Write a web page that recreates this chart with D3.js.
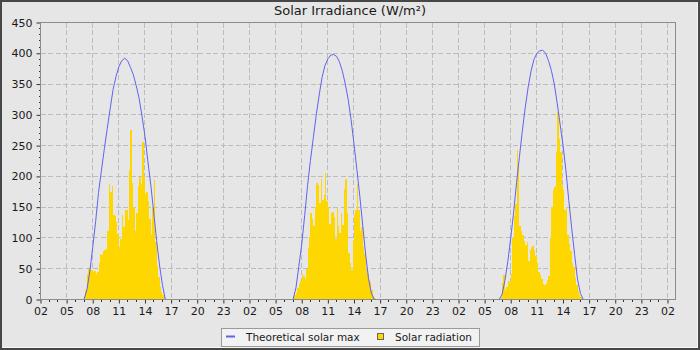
<!DOCTYPE html>
<html>
<head>
<meta charset="utf-8">
<script src="https://cdn.jsdelivr.net/npm/d3@7"></script>
<style>
  html, body { margin: 0; padding: 0; background: #474747; }
  svg { display: block; font-family: "DejaVu Sans", sans-serif; }
</style>
</head>
<body>
<svg id="chart" width="700" height="350"></svg>
<script>
// ---- data -------------------------------------------------------------
const chartTitle = "Solar Irradiance (W/m²)";
const seriesNames = ["Theoretical solar max", "Solar radiation"];

// time axis, in hours since midnight of the first day
const xStartHour = 2;
const xEndHour = 74.92;
const hourTicks = d3.range(2, 75, 3);
const hourTickLabels = ["02","05","08","11","14","17","20","23",
                        "02","05","08","11","14","17","20","23",
                        "02","05","08","11","14","17","20","23","02"];
const yTicks = [0, 50, 100, 150, 200, 250, 300, 350, 400, 450];

// measured radiation, one value every 10 minutes from the given start hour
const radiationStepMinutes = 10;
const radiationStarts = [7, 31, 54 + 50 / 60];
const radiationDay1 = [5,15,42,50,53,48,44,46,42,45,60,74,72,78,80,82,112,188,175,185,
                       137,135,126,107,85,99,137,118,145,145,129,210,276,190,150,112,140,185,199,188,
                       256,199,172,175,160,130,107,151,194,94,55,36,20,12,8,4];
const radiationDay2 = [5,8,10,18,25,30,42,38,34,50,84,102,140,130,120,150,190,186,156,196,
                       161,169,205,160,150,123,140,142,134,99,148,120,108,140,121,180,196,140,75,60,
                       48,96,137,145,188,145,112,118,86,75,48,42,31,29,15,6,2];
const radiationDay3 = [4,26,40,15,20,30,29,42,100,135,155,243,215,120,112,104,95,88,93,62,
                       80,85,88,80,70,60,45,40,34,25,23,26,32,38,100,150,178,183,240,305,
                       261,240,185,178,145,150,105,90,78,60,52,35,24,14,8,4];

// clear-sky maximum, one value every 20 minutes from the given start hour
const theoreticalStepMinutes = 20;
const theoreticalStarts = [7, 31, 54 + 40 / 60];
const theoreticalDay1 = [0,16,46,85,127,174,210,245,278,310,341,362,378,388,392,388,377,365,347,326,
                         297,265,224,186,142,96,56,24,0];
const theoreticalDay2 = [0,19,54,90,136,185,226,263,300,332,361,380,391,397,398,395,386,371,350,325,
                         292,253,211,168,121,74,34,10,0];
const theoreticalDay3 = [0,8,31,62,100,142,190,232,274,312,345,371,390,400,404,405,400,388,372,350,
                         319,285,251,210,161,116,73,33,10,0];

// ---- layout -----------------------------------------------------------
const W = 700, H = 350;
const plot = { left: 40.5, right: 675.5, top: 22.5, bottom: 299.5 };
const colors = {
  frame: "#474747", panel: "#e6e6e6", grid: "#bcbcbc", axis: "#8c8c8c",
  tick: "#333", text: "#1a1a1a", line: "#6262f0", bar: "#ffd700"
};

const svg = d3.select("#chart");

const x = d3.scaleLinear().domain([xStartHour, xEndHour]).range([plot.left, plot.right]);
const y = d3.scaleLinear().domain([0, 450]).range([plot.bottom, plot.top]);

// outer frame and panel
svg.append("rect").attr("width", W).attr("height", H).attr("fill", colors.frame);
svg.append("rect").attr("x", 2).attr("y", 2).attr("width", W - 4).attr("height", H - 4)
  .attr("fill", "#f6f6f6");
svg.append("rect").attr("x", 2).attr("y", 2).attr("width", W - 5).attr("height", H - 5)
  .attr("fill", colors.panel);

// title
svg.append("text").attr("x", W / 2).attr("y", 15).attr("text-anchor", "middle")
  .attr("font-size", 13).attr("fill", colors.text).text(chartTitle);

// grid
const grid = svg.append("g").attr("stroke", colors.grid).attr("stroke-dasharray", "5,2.5")
  .attr("shape-rendering", "crispEdges");
grid.selectAll("line.h").data(yTicks.filter(v => v > 0 && v < 450)).join("line")
  .attr("class", "h").attr("x1", plot.left).attr("x2", plot.right)
  .attr("y1", d => y(d)).attr("y2", d => y(d));
grid.selectAll("line.v").data(hourTicks.filter(h => h > xStartHour)).join("line")
  .attr("class", "v").attr("y1", plot.top).attr("y2", plot.bottom)
  .attr("x1", d => x(d)).attr("x2", d => x(d));

// measured radiation bars
const radiationDays = [radiationDay1, radiationDay2, radiationDay3];
const barData = radiationDays.flatMap((vals, d) =>
  vals.map((v, i) => ({ t: radiationStarts[d] + i * radiationStepMinutes / 60, v })));
const step = radiationStepMinutes / 60;
svg.append("g").attr("fill", colors.bar).attr("shape-rendering", "crispEdges")
  .selectAll("rect").data(barData).join("rect")
  .attr("x", d => x(d.t))
  .attr("width", d => x(d.t + step) - x(d.t))
  .attr("y", d => y(d.v))
  .attr("height", d => y(0) - y(d.v));

// theoretical maximum curve, one path per day
const theoreticalDays = [theoreticalDay1, theoreticalDay2, theoreticalDay3];
const line = d3.line().x(d => x(d.t)).y(d => y(d.v));
svg.append("g").attr("fill", "none").attr("stroke", colors.line).attr("stroke-width", 1)
  .selectAll("path").data(theoreticalDays.map((vals, d) =>
    vals.map((v, i) => ({ t: theoreticalStarts[d] + i * theoreticalStepMinutes / 60, v }))))
  .join("path").attr("d", line);

// axes
const yAxis = d3.axisLeft(y).tickValues(yTicks).tickSize(4).tickPadding(4);
const gy = svg.append("g").attr("transform", `translate(${plot.left},0)`).call(yAxis);
const xAxis = d3.axisBottom(x).tickValues(hourTicks).tickSize(4).tickPadding(4)
  .tickFormat((d, i) => hourTickLabels[i]);
const gx = svg.append("g").attr("transform", `translate(0,${plot.bottom})`).call(xAxis);

[gy, gx].forEach(g => {
  g.select(".domain").remove();
  g.selectAll(".tick line").attr("stroke", colors.tick);
  g.selectAll(".tick text").attr("fill", colors.text).attr("font-size", 11)
    .attr("font-family", "DejaVu Sans, sans-serif");
});

// minor ticks
svg.append("g").attr("stroke", colors.tick).attr("shape-rendering", "crispEdges")
  .selectAll("line").data(d3.range(0, 451, 10).filter(v => v % 50 !== 0)).join("line")
  .attr("x1", plot.left - 2).attr("x2", plot.left).attr("y1", d => y(d)).attr("y2", d => y(d));
svg.append("g").attr("stroke", colors.tick).attr("shape-rendering", "crispEdges")
  .selectAll("line").data(d3.range(3, 75, 1).filter(h => (h - 2) % 3 !== 0)).join("line")
  .attr("y1", plot.bottom).attr("y2", plot.bottom + 2).attr("x1", d => x(d)).attr("x2", d => x(d));

// plot frame
svg.append("rect").attr("x", plot.left).attr("y", plot.top)
  .attr("width", plot.right - plot.left).attr("height", plot.bottom - plot.top)
  .attr("fill", "none").attr("stroke", colors.axis).attr("shape-rendering", "crispEdges");

// legend
const lg = svg.append("g");
lg.append("rect").attr("x", 221.5).attr("y", 328.5).attr("width", 258).attr("height", 18)
  .attr("fill", "#f2f2f2").attr("stroke", "#9a9a9a");
lg.append("line").attr("x1", 226).attr("x2", 235).attr("y1", 336.5).attr("y2", 336.5)
  .attr("stroke", colors.line).attr("stroke-width", 2);
lg.append("text").attr("x", 246).attr("y", 340.5).attr("font-size", 10.5)
  .attr("fill", colors.text).text(seriesNames[0]);
lg.append("rect").attr("x", 377.5).attr("y", 333.5).attr("width", 6).attr("height", 6)
  .attr("fill", colors.bar).attr("stroke", "#666");
lg.append("text").attr("x", 395).attr("y", 340.5).attr("font-size", 10.5)
  .attr("fill", colors.text).text(seriesNames[1]);
</script>
</body>
</html>
